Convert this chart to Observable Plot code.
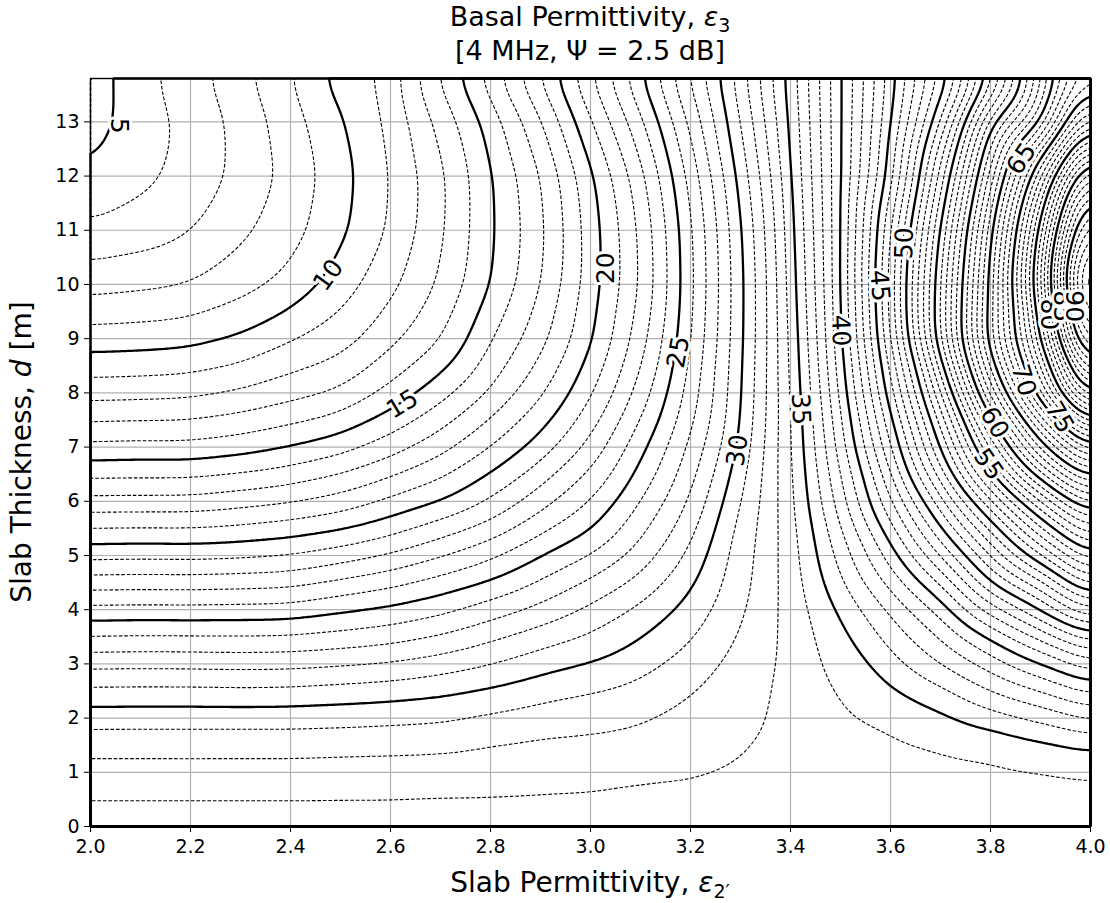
<!DOCTYPE html>
<html>
<head>
<meta charset="utf-8">
<script src="https://cdn.jsdelivr.net/npm/d3@7"></script>
<script src="https://cdn.jsdelivr.net/npm/@observablehq/plot@0.6"></script>
<style>
  html, body { margin: 0; padding: 0; background: #fff; }
  body { width: 1110px; height: 903px; font-family: "DejaVu Sans", sans-serif; color: #000; overflow: hidden; }
  #title { position: relative; width: 1110px; height: 66px; }
  #title div { position: absolute; left: 90px; width: 1000px; text-align: center; font-size: 27px; line-height: 32px; white-space: nowrap; }
  #t1 { top: 1px; }
  #t2 { top: 35px; }
  #title sub { font-size: 19px; line-height: 0; }
</style>
</head>
<body>
<div id="title">
  <div id="t1">Basal Permittivity, <i>ε</i><sub>3</sub></div>
  <div id="t2">[4 MHz, Ψ = 2.5 dB]</div>
</div>
<div id="chart"></div>
<script>
// ---- tick labels ----
const xTicks = [2.0, 2.2, 2.4, 2.6, 2.8, 3.0, 3.2, 3.4, 3.6, 3.8, 4.0];
const yTicks = [0, 1, 2, 3, 4, 5, 6, 7, 8, 9, 10, 11, 12, 13];

// ---- grid of basal permittivity values ----
// columns: slab permittivity; rows: slab thickness d [m]
const xCols = [2.0, 2.1, 2.2, 2.3, 2.4, 2.5, 2.6, 2.7, 2.8, 2.9, 3.0, 3.1, 3.2, 3.3, 3.35, 3.4, 3.45, 3.5, 3.6, 3.7, 3.8, 3.9, 4.0];
const dRows = [0, 0.5, 1, 1.5, 2, 2.5, 3, 3.5, 4, 4.5, 5, 5.5, 6, 7, 8, 9, 10, 11, 12, 13, 14];

const c200 = [33.5, 33.0, 32.4, 31.66, 30.58, 29.23, 27.74, 26.04, 24.28, 22.5, 20.69, 19.0, 17.28, 14.22, 11.59, 9.45, 7.61, 6.17, 5.08, 4.45, 4.35];
const c210 = [33.5, 33.0, 32.4, 31.66, 30.6, 29.25, 27.78, 26.1, 24.33, 22.55, 20.75, 19.05, 17.3, 14.3, 11.65, 9.52, 7.77, 6.48, 5.72, 5.55, 5.7];
const c220 = [33.5, 33.0, 32.4, 31.65, 30.6, 29.25, 27.75, 26.08, 24.3, 22.52, 20.7, 19.02, 17.32, 14.27, 11.75, 9.67, 8.0, 6.93, 6.35, 6.25, 6.6];
const c230 = [33.5, 33.0, 32.4, 31.66, 30.6, 29.2, 27.7, 26.05, 24.35, 22.6, 20.8, 19.2, 17.6, 14.55, 12.1, 10.1, 8.6, 7.75, 7.25, 7.3, 7.8];
const c240 = [33.5, 33.0, 32.4, 31.65, 30.6, 29.25, 27.72, 26.1, 24.4, 22.7, 21.0, 19.5, 17.9, 15.0, 12.6, 10.9, 9.27, 8.6, 8.3, 8.55, 9.05];
const c250 = [33.5, 33.0, 32.45, 31.7, 30.65, 29.4, 27.9, 26.3, 24.85, 23.2, 21.5, 19.9, 18.4, 15.6, 13.1, 11.5, 10.5, 9.75, 9.6, 9.9, 10.6];
const c260 = [33.5, 33.0, 32.45, 31.75, 30.75, 29.55, 28.1, 26.6, 25.2, 23.7, 22.1, 20.6, 19.2, 16.5, 14.3, 12.7, 11.7, 11.1, 11.0, 11.2, 11.4];
const c270 = [33.5, 33.05, 32.5, 31.8, 30.85, 29.8, 28.5, 27.1, 25.7, 24.4, 22.9, 21.5, 19.95, 17.6, 15.6, 13.9, 13.1, 12.8, 12.75, 13.3, 14.4];
const c280 = [33.5, 33.05, 32.55, 32.05, 31.2, 30.15, 29.0, 27.8, 26.5, 25.1, 23.8, 22.4, 21.1, 19.0, 17.1, 15.9, 15.0, 14.85, 14.9, 15.4, 16.8];
const c290 = [33.5, 33.1, 32.6, 32.2, 31.5, 30.6, 29.6, 28.5, 27.3, 26.1, 25.0, 23.7, 22.6, 20.4, 18.8, 17.6, 16.9, 16.7, 16.9, 17.8, 19.4];
const c300 = [33.5, 33.1, 32.7, 32.25, 31.65, 30.95, 30.05, 29.15, 28.2, 27.2, 26.0, 24.9, 24.0, 22.3, 20.8, 19.8, 19.5, 19.5, 19.8, 20.9, 22.2];
const c310 = [33.5, 33.25, 32.8, 32.35, 31.9, 31.3, 30.65, 29.95, 29.25, 28.25, 27.45, 26.7, 26.0, 24.7, 23.4, 22.5, 22.0, 22.1, 22.6, 23.7, 25.2];
const c320 = [33.5, 33.25, 32.9, 32.6, 32.3, 31.95, 31.4, 30.9, 30.35, 29.8, 29.2, 28.6, 28.1, 27.2, 26.4, 25.9, 25.7, 25.8, 26.3, 27.2, 28.4];
const c330 = [33.5, 33.3, 33.1, 32.9, 32.75, 32.6, 32.4, 32.1, 31.85, 31.6, 31.55, 31.4, 31.0, 30.15, 29.85, 29.75, 29.75, 29.9, 30.35, 31.0, 31.7];
const c335 = [33.5, 33.4, 33.3, 33.1, 32.95, 32.9, 32.8, 32.65, 32.55, 32.45, 32.4, 32.3, 32.25, 32.15, 31.9, 31.75, 31.7, 31.9, 32.4, 33.0, 33.6];
const c340 = [33.5, 33.45, 33.4, 33.35, 33.3, 33.3, 33.3, 33.35, 33.4, 33.45, 33.55, 33.6, 33.65, 33.85, 34.0, 34.2, 34.45, 34.65, 34.9, 35.15, 35.4];
const c345 = [33.5, 33.55, 33.6, 33.65, 33.7, 33.8, 33.9, 34.0, 34.2, 34.55, 34.85, 35.1, 35.55, 36.0, 36.4, 36.75, 37.0, 37.2, 37.4, 37.55, 37.7];
const c350 = [33.5, 33.55, 33.65, 33.75, 33.85, 34.0, 34.3, 34.65, 35.1, 35.8, 36.35, 36.9, 37.55, 38.5, 39.2, 39.7, 39.85, 39.8, 39.8, 39.85, 39.85];
const c360 = [33.5, 33.6, 33.7, 33.85, 34.15, 34.8, 35.6, 36.35, 37.1, 38.25, 39.4, 40.6, 41.8, 43.9, 45.6, 46.9, 47.3, 46.8, 45.3, 44.75, 44.2];
const c370 = [33.5, 33.65, 33.8, 34.0, 34.7, 35.7, 37.0, 38.0, 39.2, 41.0, 43.0, 44.8, 46.5, 50.0, 52.7, 56.0, 55.9, 55.0, 53.3, 50.8, 48.5];
const c380 = [33.5, 33.65, 33.82, 34.2, 35.5, 37.0, 38.4, 40.0, 42.5, 45.0, 47.0, 49.1, 51.7, 57.2, 62.6, 66.0, 65.4, 64.5, 62.4, 59.8, 54.5];
const c390 = [33.5, 33.7, 33.88, 34.7, 36.2, 38.0, 39.9, 42.2, 45.0, 47.5, 50.9, 53.8, 56.9, 64.4, 71.0, 74.5, 76.5, 75.2, 71.6, 64.4, 62.0];
const c400 = [33.5, 33.75, 34.0, 35.15, 37.2, 39.2, 41.7, 44.5, 48.1, 51.6, 55.0, 58.1, 61.5, 70.0, 81.7, 90.0, 94.0, 89.8, 83.6, 74.3, 67.0];

// ---- contour levels ----
const majorLevels = [5, 10, 15, 20, 25, 30, 35, 40, 45, 50, 55, 60, 65, 70, 75, 80, 85, 90, 95];
const minorLevels = d3.range(1, 100).filter(v => v % 5 !== 0);

// ---- inline contour labels (value, position, angle) ----
const labelText  = ["5", "10", "15", "20", "25", "30", "35", "40", "45", "50", "55", "60", "65", "70", "75", "80", "85", "90"];
const labelX     = [2.056, 2.476, 2.624, 3.03, 3.176, 3.294, 3.42, 3.5, 3.578, 3.628, 3.796, 3.808, 3.862, 3.866, 3.938, 3.916, 3.942, 3.966];
const labelY     = [12.93, 10.17, 7.79, 10.3, 8.75, 6.94, 7.7, 9.15, 9.98, 10.76, 6.68, 7.45, 12.32, 8.23, 7.55, 9.45, 9.6, 9.6];
const labelAngle = [90, -54, -31, -90, -80, -82, 87, 88, 85, -88, 55, 60, -56, 73, 60, 90, 90, 90];

const columns = [c200, c210, c220, c230, c240, c250, c260, c270, c280, c290, c300, c310, c320, c330, c335, c340, c345, c350, c360, c370, c380, c390, c400];
const field = xCols.flatMap((x, i) => dRows.map((d, j) => ({x, d, v: columns[i][j]})));
const labels = labelText.map((t, i) => ({t, x: labelX[i], y: labelY[i], a: labelAngle[i]}));

const contourBase = {x: "x", y: "d", value: "v", interpolate: "barycentric", blur: 7, pixelSize: 2, fill: "none", stroke: "#000"};

const svg = Plot.plot({
  width: 1110,
  height: 837,
  marginTop: 12,
  marginRight: 20,
  marginBottom: 77,
  marginLeft: 90,
  style: {fontFamily: "DejaVu Sans, sans-serif", fontSize: "19px", color: "#000", background: "#fff", overflow: "visible"},
  x: {domain: [2, 4]},
  y: {domain: [0, 13.8]},
  marks: [
    Plot.gridX(xTicks, {stroke: "#b0b0b0", strokeOpacity: 1, strokeWidth: 1.2}),
    Plot.gridY(yTicks, {stroke: "#b0b0b0", strokeOpacity: 1, strokeWidth: 1.2}),
    Plot.contour(field, {...contourBase, thresholds: minorLevels, strokeWidth: 1.1, strokeDasharray: "3.6,1.9"}),
    Plot.contour(field, {...contourBase, thresholds: majorLevels, strokeWidth: 2.3}),
    Plot.text(labels, {x: "x", y: "y", text: "t", rotate: "a", fontSize: 25, fill: "#000", stroke: "#fff", strokeWidth: 6, paintOrder: "stroke"}),
    Plot.frame({stroke: "#000", strokeWidth: 1.4}),
    Plot.axisX(xTicks, {anchor: "bottom", tickFormat: d => d.toFixed(1), tickSize: 6, tickPadding: 7, label: null, fontSize: 19}),
    Plot.axisY(yTicks, {anchor: "left", tickFormat: d => String(d), tickSize: 6, tickPadding: 5, label: null, fontSize: 19})
  ]
});

const s = d3.select(svg);
const xl = s.append("text")
  .attr("x", 590).attr("y", 826)
  .attr("text-anchor", "middle")
  .attr("fill", "#000")
  .style("font-size", "28px");
xl.append("tspan").text("Slab Permittivity, ");
xl.append("tspan").attr("font-style", "italic").text("ε");
xl.append("tspan").attr("font-size", "19px").attr("dy", 6).text("2′");

const yl = s.append("text")
  .attr("transform", "translate(31,386) rotate(-90)")
  .attr("text-anchor", "middle")
  .attr("fill", "#000")
  .style("font-size", "28px");
yl.append("tspan").text("Slab Thickness, ");
yl.append("tspan").attr("font-style", "italic").text("d");
yl.append("tspan").text(" [m]");

document.getElementById("chart").appendChild(svg);
</script>
</body>
</html>
